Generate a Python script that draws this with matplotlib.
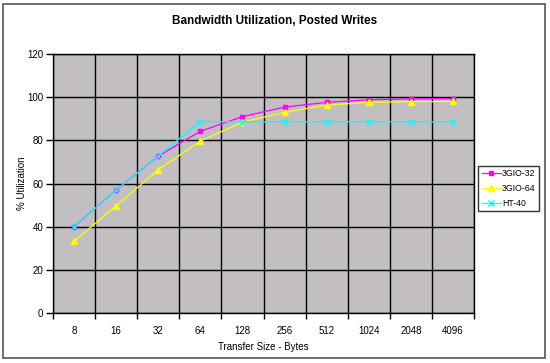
import numpy as np
import matplotlib
matplotlib.use("Agg")
import matplotlib.pyplot as plt
from matplotlib.patches import Rectangle

plt.rcParams['font.family'] = ['Liberation Sans', 'DejaVu Sans']

sizes = ['8', '16', '32', '64', '128', '256', '512', '1024', '2048', '4096']
gio32 = [40, 57, 72.7, 84.2, 91, 95.4, 97.6, 98.8, 99.2, 99.3]
gio64 = [33.3, 49.6, 66.4, 79.6, 88.4, 93, 96.3, 97.6, 97.9, 98]
ht40 = [40, 57, 72.7, 88.7, 88.6, 88.6, 88.6, 88.6, 88.6, 88.6]

fig = plt.figure(figsize=(5.5, 3.63), dpi=100)
fig.patches.append(Rectangle((3 / 550, 1 - 358 / 363), 542 / 550, 354 / 363,
                             transform=fig.transFigure, fill=False,
                             edgecolor='#555555', linewidth=1.2))

ax = fig.add_axes([53 / 550, 1 - 313 / 363, 421 / 550, 259 / 363])
ax.set_facecolor('#C2BEC2')
x = np.arange(len(sizes))

ax.plot(x, gio32, color='#FF00FF', marker='s', markersize=3.5, linewidth=0.9, label='3GIO-32')
ax.plot(x, gio64, color='#FFFF00', marker='^', markersize=4.5, linewidth=0.9, label='3GIO-64')
ax.plot(x, ht40, color='#00FFFF', marker='x', markersize=4, markeredgewidth=1,
        linewidth=0.9, label='HT-40')

ax.set_xlim(-0.5, len(sizes) - 0.5)
ax.set_ylim(0, 120)
ax.set_yticks(range(0, 121, 20))
ax.set_xticks(x)
ax.set_xticklabels(sizes)
ax.set_xticks(np.arange(-0.5, len(sizes)), minor=True)
ax.tick_params(axis='x', which='major', length=0, labelsize=7, pad=9)
ax.tick_params(axis='x', which='minor', length=4, width=1, direction='out')
ax.tick_params(axis='y', length=5, width=1, labelsize=7, direction='out', pad=2)
ax.grid(axis='y', which='major', color='black', linewidth=1)
ax.grid(axis='x', which='minor', color='black', linewidth=1)
ax.set_axisbelow(True)
for s in ax.spines.values():
    s.set_color('black')
    s.set_linewidth(1)

ax.set_xlabel('Transfer Size - Bytes', fontsize=7, labelpad=5)
ax.set_ylabel('% Utilization', fontsize=7, labelpad=0)
fig.text(275 / 550, 1 - 21 / 363, 'Bandwidth Utilization, Posted Writes',
         ha='center', va='center', fontsize=8.5, fontweight='bold')

leg = ax.legend(loc='center left', bbox_to_anchor=(1.01, 0.48), fontsize=6.3,
                frameon=True, fancybox=False, edgecolor='black', handlelength=2.2,
                borderpad=0.4, labelspacing=0.65, handletextpad=0.1, borderaxespad=0)
leg.get_frame().set_linewidth(1)

fig.savefig('out.png', dpi=100)
